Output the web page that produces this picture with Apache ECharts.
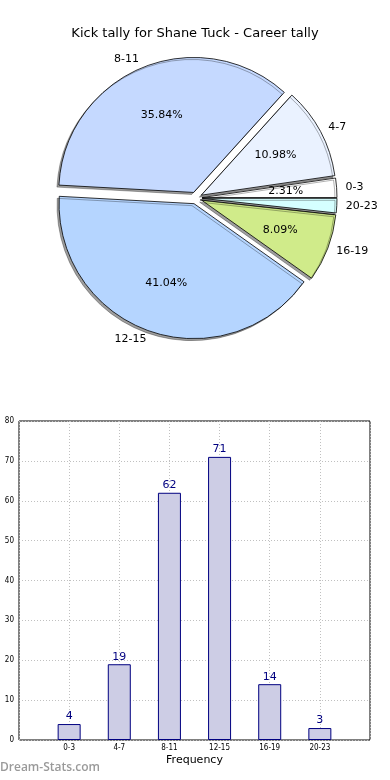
<!DOCTYPE html>
<html><head><meta charset="utf-8">
<script src="https://cdn.jsdelivr.net/npm/echarts@6/dist/echarts.min.js"></script>
<style>html,body{margin:0;padding:0;background:#fff}#c{width:390px;height:780px}</style>
</head><body><div id="c"></div>
<script>
var categories = ['0-3', '4-7', '8-11', '12-15', '16-19', '20-23'];
var kicks = [4, 19, 62, 71, 14, 3];
var pieColors = ['#ffffff', '#eaf2ff', '#c5d9ff', '#b5d5ff', '#d0eb8a', '#d5ffff'];
var yTicks = [0, 10, 20, 30, 40, 50, 60, 70, 80];
var titleText = 'Kick tally for Shane Tuck - Career tally';

var total = kicks.reduce(function (a, b) { return a + b; }, 0);
var F = 'DejaVu Sans';
var NF = '"Liberation Sans Narrow", "DejaVu Sans Condensed", "DejaVu Sans"';
var R = 135;
var pieData = categories.map(function (c, i) {
  return { name: c, value: kicks[i], selected: true, itemStyle: { color: pieColors[i] } };
});
var pctData = categories.map(function (c, i) {
  return { name: c, value: kicks[i], selected: true };
});
var xCats = [''].concat(categories).concat(['']);
var barData = ['-'].concat(kicks).concat(['-']);

var chart = echarts.init(document.getElementById('c'), null, { renderer: 'canvas' });
chart.setOption({
  animation: false,
  title: { text: titleText, left: 'center', top: 22, textStyle: { fontFamily: F, fontSize: 13, fontWeight: 'normal', color: '#000' } },
  graphic: [{ type: 'text', left: 0, top: 762, style: { text: 'Dream-Stats.com', font: '600 12px "Open Sans"', fill: '#9a9a9a' } }],
  grid: { left: 19, right: 20, top: 421, bottom: 40, show: true, borderColor: '#000', borderWidth: 1 },
  xAxis: {
    type: 'category', data: xCats, boundaryGap: false,
    name: 'Frequency', nameLocation: 'middle', nameGap: 15,
    nameTextStyle: { fontFamily: F, fontSize: 11, color: '#000' },
    axisLine: { show: false }, axisTick: { show: false },
    axisLabel: { fontFamily: NF, fontSize: 8, color: '#000', margin: 4, interval: 0 },
    splitLine: { show: true, lineStyle: { color: '#c0c0c0', type: [1, 2], width: 1 } }
  },
  yAxis: {
    type: 'value', min: 0, max: 80, interval: 10,
    axisLine: { show: false }, axisTick: { show: false },
    axisLabel: { fontFamily: NF, fontSize: 8, color: '#000', margin: 5 },
    splitLine: { show: true, lineStyle: { color: '#c0c0c0', type: [1, 2], width: 1 } }
  },
  series: [
    {
      type: 'pie', center: [196, 198], radius: [0, R], startAngle: 0, clockwise: false,
      selectedMode: 'multiple', selectedOffset: 6, avoidLabelOverlap: false, silent: true,
      data: pieData,
      itemStyle: { borderColor: '#000', borderWidth: 0.8, shadowColor: 'rgba(0,0,0,0.38)', shadowBlur: 0, shadowOffsetX: -2, shadowOffsetY: 2 },
      label: { show: true, position: 'outside', fontFamily: F, fontSize: 11, color: '#000', formatter: '{b}', distanceToLabelLine: 0 },
      labelLine: { show: false, length: 9, length2: 0 },
      emphasis: { disabled: true }
    },
    {
      type: 'pie', center: [196, 198], radius: [0, R * 1.2], startAngle: 0, clockwise: false,
      selectedMode: 'multiple', selectedOffset: 6, avoidLabelOverlap: false, silent: true,
      data: pctData,
      itemStyle: { color: 'rgba(0,0,0,0)', borderWidth: 0 },
      label: { show: true, position: 'inside', fontFamily: F, fontSize: 11, color: '#000',
        formatter: function (p) { return (p.value / total * 100).toFixed(2) + '%'; } },
      labelLine: { show: false },
      emphasis: { disabled: true }
    },
    {
      type: 'bar', data: barData, barWidth: 23,
      itemStyle: { color: '#cdcde5', borderColor: '#000080', borderWidth: 1 },
      label: { show: true, position: 'top', distance: 2, fontFamily: F, fontSize: 11, color: '#000080' },
      silent: true
    }
  ]
});
</script></body></html>
